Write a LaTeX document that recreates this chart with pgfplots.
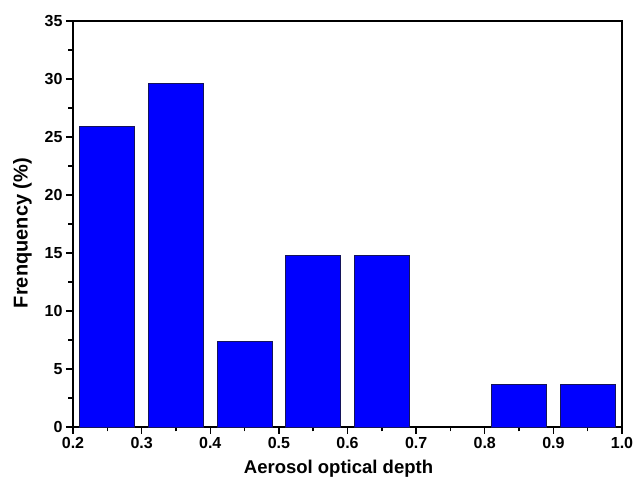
\documentclass[border=0pt]{standalone}
\usepackage{pgfplots}
\pgfplotsset{compat=1.18}
\usepackage{fontspec}
\setmainfont{Liberation Sans}
\definecolor{barblue}{RGB}{0,0,255}
\definecolor{baredge}{RGB}{20,20,90}
\begin{document}
\begin{tikzpicture}
\useasboundingbox (-73pt,-52pt) rectangle (562pt,427pt);
\begin{axis}[
  scale only axis,
  width=549pt, height=406pt,
  xmin=0.2, xmax=1.0, ymin=0, ymax=35,
  xtick={0.2,0.3,...,1.0}, ytick={0,5,...,35},
  minor x tick num=1, minor y tick num=1,
  xtick pos=left, ytick pos=left,
  tick align=outside,
  major tick length=7pt, minor tick length=4.5pt,
  every tick/.style={black, line width=1.4pt},
  axis line style={line width=1.5pt},
  /pgf/number format/assume math mode=true,
  xticklabel style={font=\fontsize{16}{16}\selectfont\bfseries, /pgf/number format/.cd, fixed, fixed zerofill, precision=1},
  yticklabel style={font=\fontsize{16}{16}\selectfont\bfseries},
  xlabel={Aerosol optical depth},
  ylabel={Frenquency (\%)},
  xlabel style={font=\fontsize{18.5}{18.5}\selectfont\bfseries, yshift=-4pt, xshift=-9pt},
  ylabel style={font=\fontsize{20}{20}\selectfont\bfseries, yshift=6pt, xshift=-9pt},
  ybar, bar width=0.08, bar shift=0pt,
  clip=false,
]
\addplot[fill=barblue, draw=baredge, line width=0.8pt] coordinates {
  (0.25,25.9) (0.35,29.6) (0.45,7.4) (0.55,14.8) (0.65,14.8) (0.85,3.7) (0.95,3.7)
};
\end{axis}
\end{tikzpicture}
\end{document}
